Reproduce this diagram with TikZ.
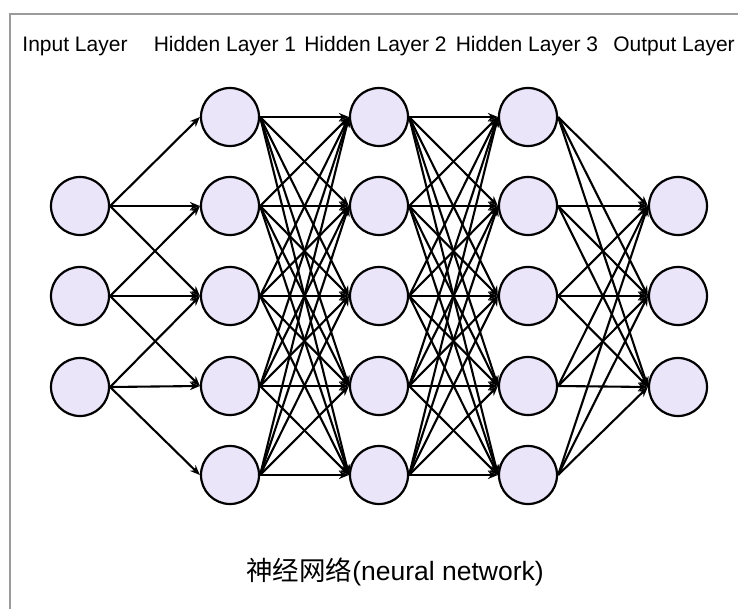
\documentclass[tikz,border=0pt]{standalone}
\usepackage{fontspec}
\setmainfont{Liberation Sans}
\newfontfamily\cjk{Noto Sans CJK SC}
\usetikzlibrary{arrows.meta}
\definecolor{neuroncol}{RGB}{235,229,250}
\definecolor{framegray}{RGB}{155,155,155}
\begin{document}
\begin{tikzpicture}[x=1pt,y=-1pt,
  neuron/.style={circle,draw=black,line width=2.2pt,fill=neuroncol,minimum size=58pt,inner sep=0pt},
  link/.style={line width=2.1pt,-{Stealth[length=10pt,width=8pt]}},
  layerlabel/.style={font=\fontsize{21}{25}\selectfont,inner sep=0pt,anchor=base},
  caption/.style={font=\fontsize{26.5}{31}\selectfont,inner sep=0pt}]
\useasboundingbox (0,0) rectangle (738,609);
% frame
\draw[framegray,line width=2pt] (738,14) -- (10,14) -- (10,609);

% layer titles
\node[layerlabel] (tin) at (75,52) {Input Layer};
\node[layerlabel] (th1) at (225,52) {Hidden Layer 1};
\node[layerlabel] (th2) at (375.5,52) {Hidden Layer 2};
\node[layerlabel] (th3) at (527,52) {Hidden Layer 3};
\node[layerlabel] (tout) at (674,52) {Output Layer};

% neurons
\foreach \i/\y in {1/206,2/296,3/387}
  \node[neuron] (in\i) at (80,\y) {};
\foreach \l/\x in {1/230,2/379,3/528}
  \foreach \i/\y in {1/117,2/206,3/296,4/386,5/475}
    \node[neuron] (h\l\i) at (\x,\y) {};
\foreach \i/\y in {1/206,2/296,3/387}
  \node[neuron] (out\i) at (678,\y) {};

% input -> hidden 1 (each input feeds three neighbours)
\foreach \i in {1,2,3}
  \foreach \j in {0,1,2}
    {\pgfmathtruncatemacro\k{\i+\j}
     \draw[link] (in\i.east) -- (h1\k.west);}
% hidden -> hidden (fully connected)
\foreach \a in {1,...,5}
  \foreach \b in {1,...,5}
    {\draw[link] (h1\a.east) -- (h2\b.west);
     \draw[link] (h2\a.east) -- (h3\b.west);}
% hidden 3 -> output
\foreach \a in {1,...,5}
  \foreach \b in {1,2,3}
    \draw[link] (h3\a.east) -- (out\b.west);

% caption
\node[caption] (cap) at (395,572) {{\cjk 神经网络}(neural network)};
\end{tikzpicture}
\end{document}
